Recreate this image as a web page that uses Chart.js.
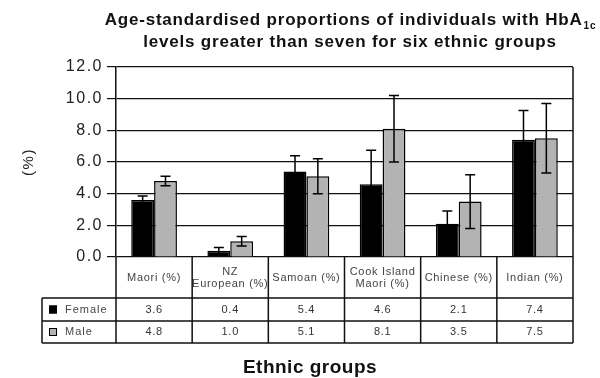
<!DOCTYPE html>
<html>
<head>
<meta charset="utf-8">
<script src="https://cdn.jsdelivr.net/npm/chart.js@4.4.0/dist/chart.umd.min.js"></script>
<style>
  html, body { margin: 0; padding: 0; background: #fff; }
  #wrap { width: 600px; height: 378px; }
</style>
</head>
<body>
<div id="wrap"><canvas id="chart" width="600" height="378"></canvas></div>
<script>
// Data
const groups = [['Maori (%)'], ['NZ', 'European (%)'], ['Samoan (%)'], ['Cook Island', 'Maori (%)'], ['Chinese (%)'], ['Indian (%)']];
const femaleValues = [3.6, 0.4, 5.4, 4.6, 2.1, 7.4];
const maleValues = [4.8, 1.0, 5.1, 8.1, 3.5, 7.5];
const femaleErr = [0.25, 0.2, 1.0, 2.15, 0.8, 1.85];
const maleErr = [0.3, 0.3, 1.1, 2.1, 1.7, 2.2];
const yTicks = [0, 2, 4, 6, 8, 10, 12];

const FONT = '"Liberation Sans", Arial, sans-serif';

// wider tracking for the axis labels, like the scanned original
const spacing = {
  id: 'spacing',
  beforeDraw(chart) { chart.ctx.letterSpacing = '1.5px'; },
  beforeDatasetsDraw(chart) { chart.ctx.letterSpacing = '0px'; }
};

// error bars drawn from the y scale
const errorBars = {
  id: 'errorBars',
  afterDatasetsDraw(chart) {
    const ctx = chart.ctx, y = chart.scales.y;
    chart.data.datasets.forEach((ds, i) => {
      const meta = chart.getDatasetMeta(i);
      meta.data.forEach((bar, j) => {
        const v = ds.data[j], e = ds.errors[j];
        const top = y.getPixelForValue(v + e), bot = y.getPixelForValue(v - e);
        ctx.save();
        ctx.strokeStyle = '#000'; ctx.lineWidth = 1.5;
        ctx.beginPath();
        ctx.moveTo(bar.x, top); ctx.lineTo(bar.x, bot);
        ctx.moveTo(bar.x - 5, top); ctx.lineTo(bar.x + 5, top);
        ctx.moveTo(bar.x - 5, bot); ctx.lineTo(bar.x + 5, bot);
        ctx.stroke();
        ctx.restore();
      });
    });
  }
};

// title, data table and axis title
const extras = {
  id: 'extras',
  afterDraw(chart) {
    const ctx = chart.ctx, a = chart.chartArea, x = chart.scales.x;
    const n = groups.length;
    const cw = (a.right - a.left) / n;
    const headB = a.bottom + 41, row1B = headB + 23, row2B = row1B + 22;
    const legL = 42;
    ctx.save();

    // title
    ctx.fillStyle = '#111';
    ctx.letterSpacing = '0.8px';
    ctx.font = 'bold 17px ' + FONT;
    ctx.textBaseline = 'middle';
    ctx.textAlign = 'left';
    const t1 = 'Age-standardised proportions of individuals with HbA';
    const w1 = ctx.measureText(t1).width;
    ctx.font = 'bold 10px ' + FONT;
    const ws = ctx.measureText('1c').width;
    const cx = 350;
    const x1 = cx - (w1 + ws) / 2;
    ctx.font = 'bold 17px ' + FONT;
    ctx.fillText(t1, x1, 20);
    ctx.font = 'bold 10px ' + FONT;
    ctx.fillText('1c', x1 + w1 + 1, 26);
    ctx.font = 'bold 17px ' + FONT;
    ctx.textAlign = 'center';
    ctx.fillText('levels greater than seven for six ethnic groups', cx, 42);

    // x title
    ctx.letterSpacing = '0.5px';
    ctx.font = 'bold 19px ' + FONT;
    ctx.fillText('Ethnic groups', 310, 368);

    // table lines
    ctx.letterSpacing = '0px';
    ctx.strokeStyle = '#111';
    ctx.lineWidth = 1.5;
    ctx.beginPath();
    // right border of plot + table
    ctx.moveTo(a.right, a.top); ctx.lineTo(a.right, row2B);
    ctx.moveTo(a.left, a.bottom); ctx.lineTo(a.left, row2B);
    for (let i = 1; i < n; i++) {
      const bx = a.left + cw * i;
      ctx.moveTo(bx, a.bottom); ctx.lineTo(bx, row2B);
    }
    ctx.moveTo(legL, headB); ctx.lineTo(a.right, headB);
    ctx.moveTo(legL, row1B); ctx.lineTo(a.right, row1B);
    ctx.moveTo(legL, row2B); ctx.lineTo(a.right, row2B);
    ctx.moveTo(legL, headB); ctx.lineTo(legL, row2B);
    ctx.stroke();

    // header labels
    ctx.fillStyle = '#444';
    ctx.letterSpacing = '0.7px';
    ctx.font = '11px ' + FONT;
    ctx.textAlign = 'center';
    groups.forEach((g, i) => {
      const gx = x.getPixelForValue(i);
      const mid = (a.bottom + headB) / 2;
      g.forEach((line, k) => {
        ctx.fillText(line, gx, mid + (k - (g.length - 1) / 2) * 12);
      });
    });

    // values
    ctx.fillStyle = '#333';
    femaleValues.forEach((v, i) => ctx.fillText(v.toFixed(1), x.getPixelForValue(i), (headB + row1B) / 2));
    maleValues.forEach((v, i) => ctx.fillText(v.toFixed(1), x.getPixelForValue(i), (row1B + row2B) / 2));

    // legend keys
    const series = [['Female', '#000', (headB + row1B) / 2], ['Male', '#b3b3b3', (row1B + row2B) / 2]];
    series.forEach(([name, col, my]) => {
      ctx.fillStyle = col;
      ctx.fillRect(49, my - 4, 8, 8);
      ctx.lineWidth = 1;
      ctx.strokeStyle = '#000';
      ctx.strokeRect(49.5, my - 3.5, 7, 7);
      ctx.fillStyle = '#444';
      ctx.textAlign = 'left';
      ctx.letterSpacing = '1px';
      ctx.fillText(name, 65, my);
    });
    ctx.restore();
  }
};

new Chart(document.getElementById('chart'), {
  type: 'bar',
  data: {
    labels: groups.map(g => g.join(' ')),
    datasets: [
      { label: 'Female', data: femaleValues, errors: femaleErr, backgroundColor: '#000', borderColor: '#000', borderWidth: 1.5 },
      { label: 'Male', data: maleValues, errors: maleErr, backgroundColor: '#b3b3b3', borderColor: '#000', borderWidth: 1.5 }
    ]
  },
  options: {
    responsive: false,
    animation: false,
    layout: { padding: { top: 67, right: 27, bottom: 0, left: 0 } },
    datasets: { bar: { categoryPercentage: 0.6, barPercentage: 1.0 } },
    plugins: { legend: { display: false }, tooltip: { enabled: false } },
    scales: {
      x: {
        ticks: { display: false },
        grid: { display: false },
        border: { display: false },
        afterFit: s => { s.height = 121; }
      },
      y: {
        min: 0, max: 12,
        afterBuildTicks: s => { s.ticks = yTicks.map(v => ({ value: v })); },
        afterFit: s => { s.width = 116; },
        ticks: { color: '#222', font: { family: FONT, size: 16 }, padding: 4, callback: v => v.toFixed(1) },
        grid: { color: '#111', lineWidth: 1.2, tickLength: 9 },
        border: { color: '#111', width: 1.5 },
        title: { display: true, text: '(%)', color: '#222', font: { family: FONT, size: 15 }, padding: { top: 20, bottom: 0 } }
      }
    }
  },
  plugins: [spacing, errorBars, extras]
});
</script>
</body>
</html>
